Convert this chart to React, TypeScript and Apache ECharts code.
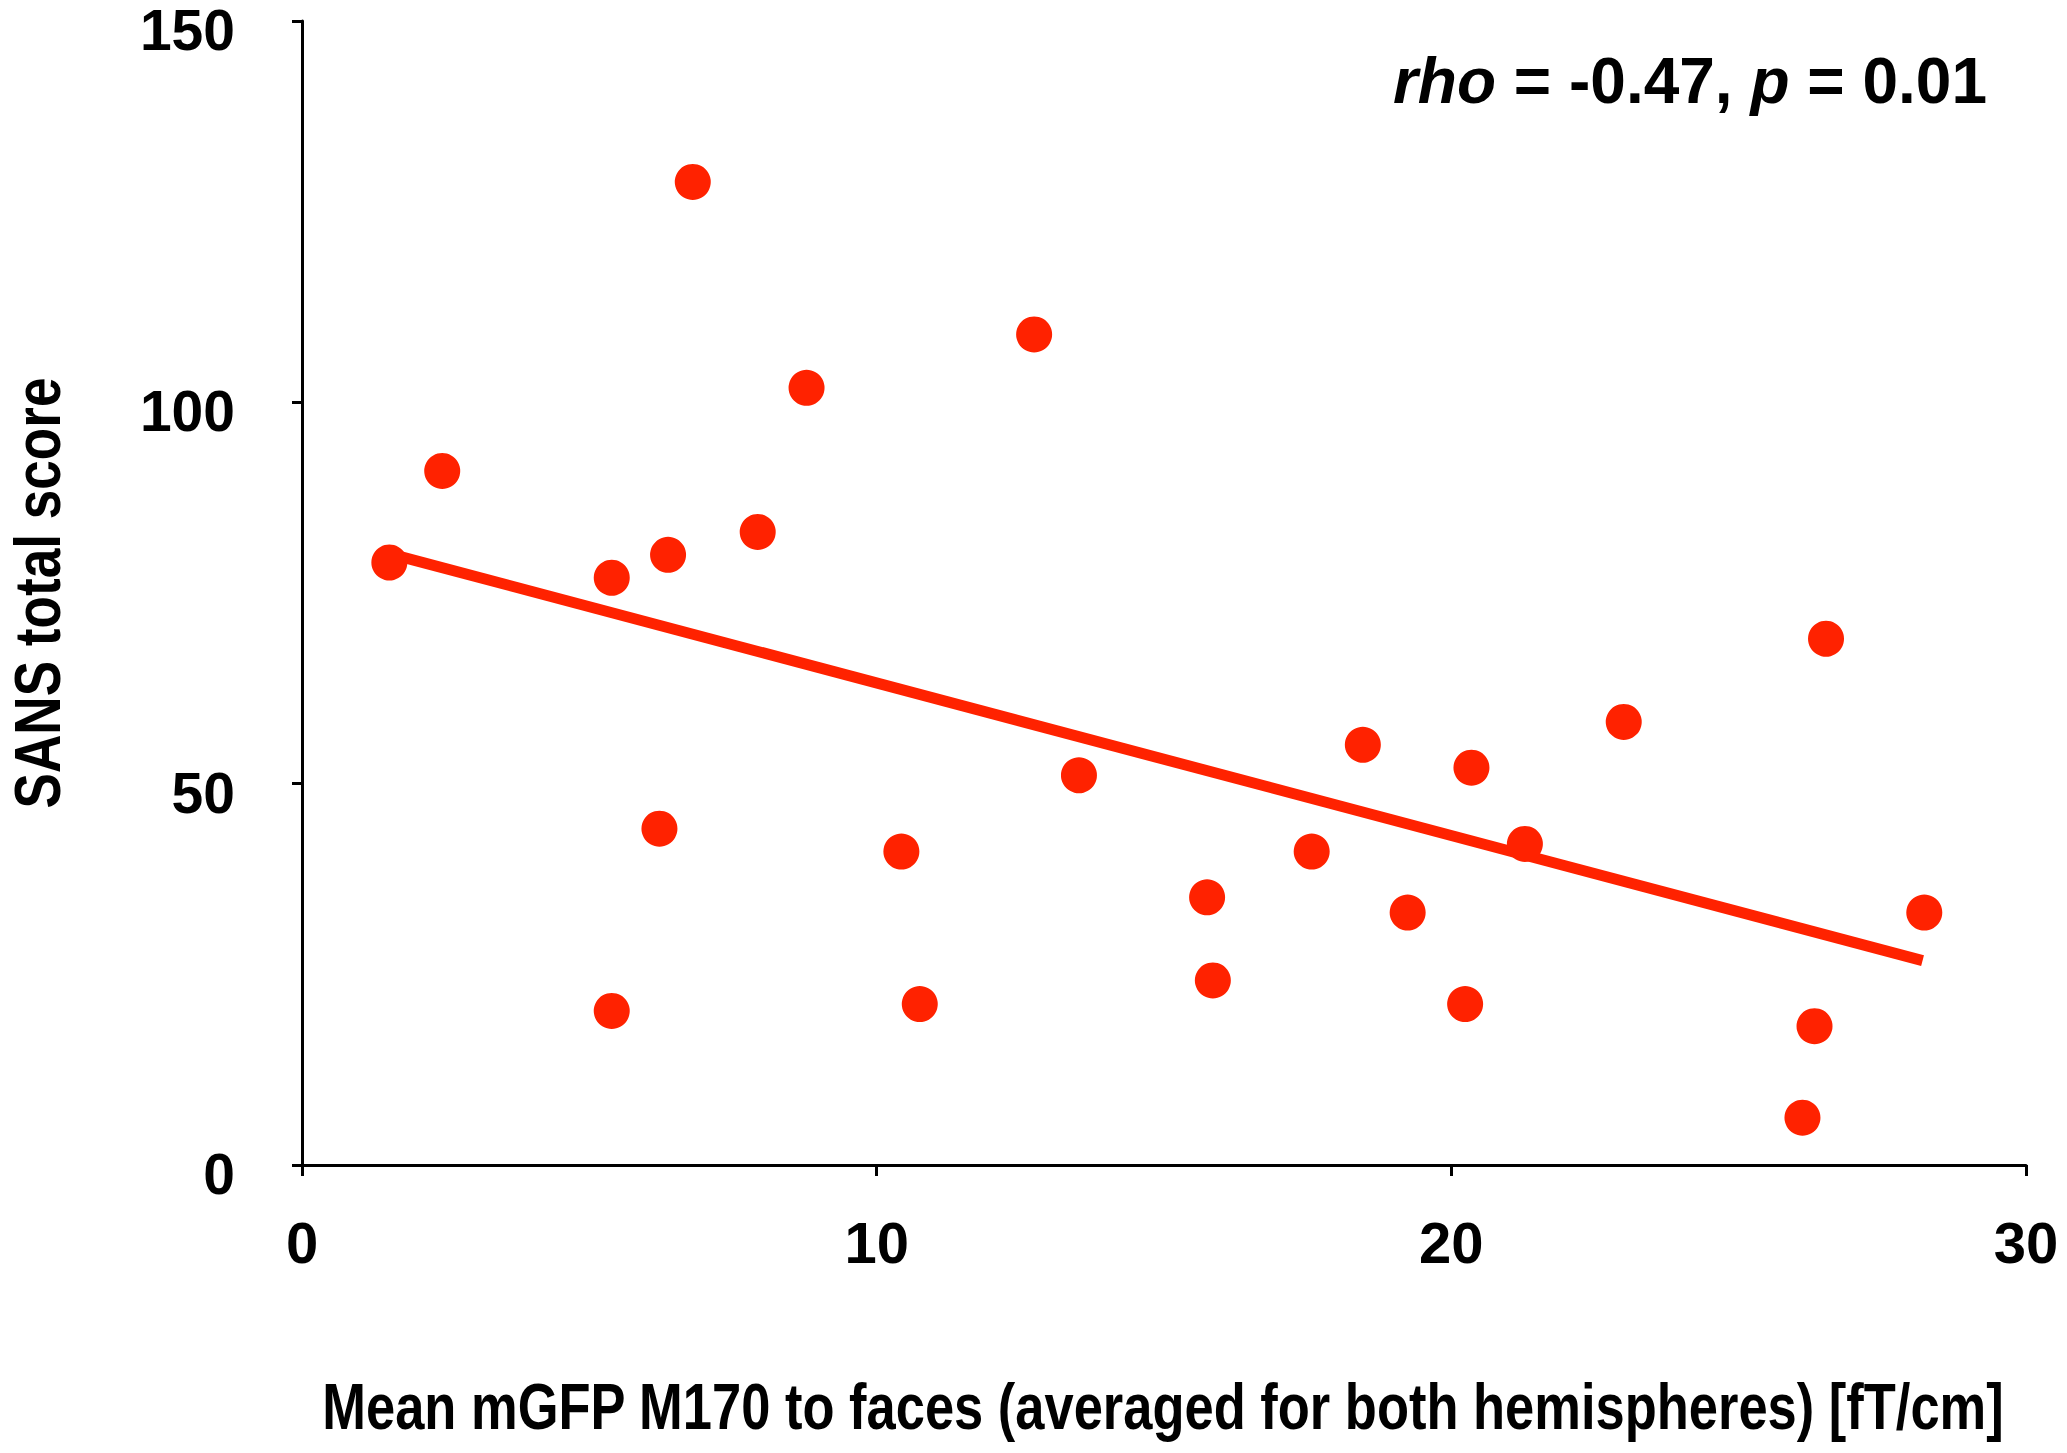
import React, { useEffect, useRef } from "react";
import * as echarts from "echarts";

const xValues = [6.8, 12.74, 8.78, 2.44, 7.93, 6.37, 5.39, 1.52, 6.22, 10.43, 13.52, 5.39, 10.75, 26.52, 23.0, 18.46, 20.35, 21.28, 17.57, 15.75, 19.24, 28.23, 15.85, 20.24, 26.32, 26.11];
const yValues = [128.9, 108.9, 101.9, 91.0, 83.0, 80.0, 77.0, 79.0, 44.1, 41.1, 51.1, 20.2, 21.1, 69.0, 58.1, 55.1, 52.1, 42.1, 41.1, 35.1, 33.1, 33.1, 24.2, 21.1, 18.2, 6.2];
const trendX = [1.5, 28.2];
const trendY = [80.2, 26.8];
const xTicks = [0, 10, 20, 30];
const yTicks = [0, 50, 100, 150];
const xTitle = "Mean mGFP M170 to faces (averaged for both hemispheres) [fT/cm]";
const yTitle = "SANS total score";
const statText = "{i|rho} = -0.47, {i|p} = 0.01";

const RED = "#ff2200";
const SANS = "'Liberation Sans', Arial, Helvetica, sans-serif";

export default function App() {
  const ref = useRef<HTMLDivElement>(null);
  useEffect(() => {
    if (!ref.current) return;
    const chart = echarts.init(ref.current, undefined, { renderer: "svg" });
    const points = xValues.map((x, i) => [x, yValues[i]]);
    const trend = trendX.map((x, i) => [x, trendY[i]]);
    const labelStyle = {
      color: "#000",
      fontFamily: SANS,
      fontWeight: "bold",
      fontSize: 58,
      lineHeight: 42,
      showMinLabel: true,
      showMaxLabel: true,
    };
    chart.setOption({
      animation: false,
      backgroundColor: "#ffffff",
      grid: {
        left: 302,
        right: 41,
        top: 21,
        bottom: 288,
        containLabel: false,
        outerBoundsMode: "none",
      },
      xAxis: {
        type: "value",
        min: xTicks[0],
        max: xTicks[xTicks.length - 1],
        interval: 10,
        splitLine: { show: false },
        axisLine: { show: true, onZero: false, lineStyle: { color: "#000", width: 3 } },
        axisTick: { show: true, inside: false, length: 11, lineStyle: { color: "#000", width: 3 } },
        axisLabel: { ...labelStyle, margin: 56 },
      },
      yAxis: {
        type: "value",
        min: yTicks[0],
        max: yTicks[yTicks.length - 1],
        interval: 50,
        splitLine: { show: false },
        axisLine: { show: true, onZero: false, lineStyle: { color: "#000", width: 3 } },
        axisTick: { show: true, inside: false, length: 10, lineStyle: { color: "#000", width: 3 } },
        axisLabel: {
          ...labelStyle,
          margin: 67,
          formatter: "{v|{value}}",
          rich: {
            v: {
              color: "#000",
              fontFamily: SANS,
              fontWeight: "bold",
              fontSize: 57,
              lineHeight: 42,
              padding: [18, 0, 0, 0],
            },
          },
        },
      },
      series: [
        {
          type: "line",
          data: trend,
          symbol: "none",
          lineStyle: { color: RED, width: 11 },
          z: 2,
        },
        {
          type: "scatter",
          data: points,
          symbol: "circle",
          symbolSize: 36,
          itemStyle: { color: RED, opacity: 1 },
          z: 3,
        },
      ],
      graphic: [
        {
          type: "text",
          x: 1163,
          y: 1407,
          scaleX: 0.82,
          style: {
            text: xTitle,
            fill: "#000",
            font: "bold 64px 'Liberation Sans', Arial, sans-serif",
            textAlign: "center",
            textVerticalAlign: "middle",
          },
        },
        {
          type: "text",
          x: 38,
          y: 593,
          rotation: Math.PI / 2,
          scaleX: 0.83,
          style: {
            text: yTitle,
            fill: "#000",
            font: "bold 64px 'Liberation Sans', Arial, sans-serif",
            textAlign: "center",
            textVerticalAlign: "middle",
          },
        },
        {
          type: "text",
          right: 80,
          top: 49,
          style: {
            text: statText,
            fill: "#000",
            font: "bold 64px 'Liberation Sans', Arial, sans-serif",
            rich: {
              i: { fontStyle: "italic", fontWeight: "bold", fontSize: 64, fontFamily: SANS, fill: "#000" },
            },
          },
        },
      ],
    });
    return () => chart.dispose();
  }, []);
  return (
    <div
      ref={ref}
      style={{ position: "fixed", left: 0, top: 0, width: 2067, height: 1453, background: "#fff" }}
    />
  );
}
